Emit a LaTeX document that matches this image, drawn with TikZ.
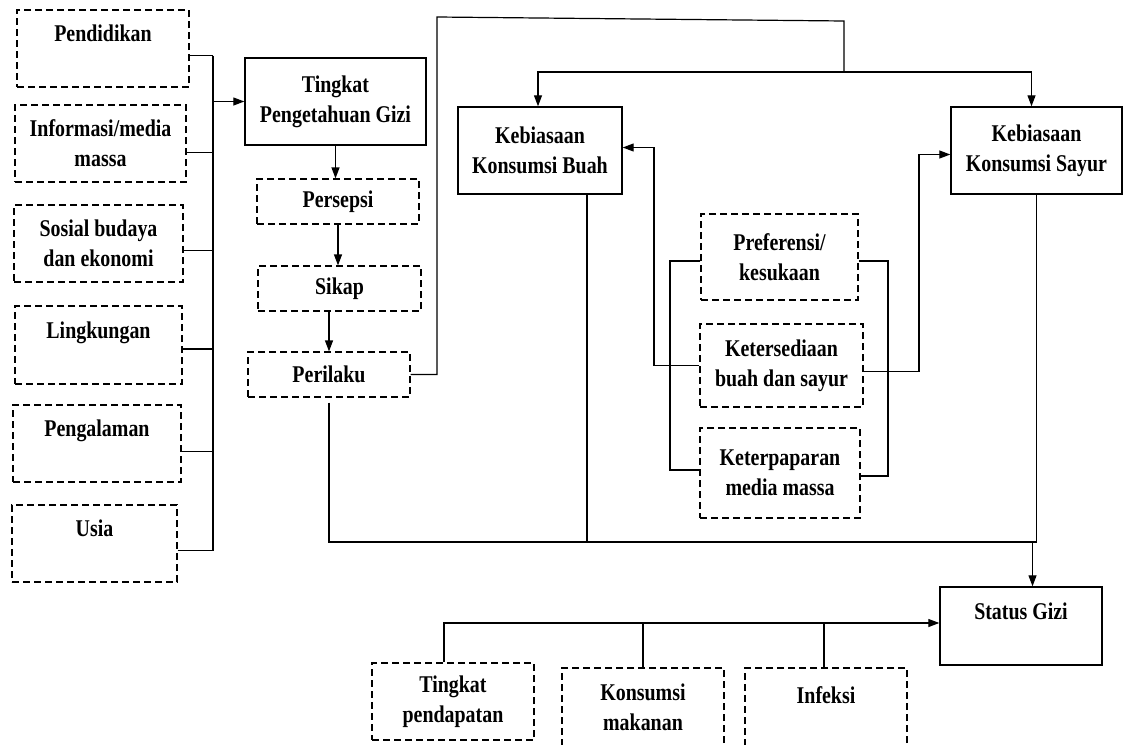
\documentclass[tikz,border=0pt]{standalone}
\usepackage{fontspec}
\setmainfont[FakeStretch=0.83]{Liberation Serif}
\usetikzlibrary{arrows.meta}

\begin{document}
\begin{tikzpicture}[x=1pt,y=-1pt,line width=1.2pt,
  font=\fontsize{24}{30}\selectfont\bfseries,
  box/.style={draw,line width=1.4pt,align=center,inner sep=0pt},
  dbox/.style={box,line width=1.2pt,dash pattern=on 7pt off 4pt},
  arr/.style={-{Triangle[length=11pt,width=8pt]}}]
\useasboundingbox (0,0) rectangle (1123,744);
% left factors
\node[dbox,minimum width=172pt,minimum height=77pt] (pend) at (103,48.5) {Pendidikan\\ \mbox{}};
\node[dbox,minimum width=171pt,minimum height=77pt] (info) at (100.5,143.5) {Informasi/media\\ massa};
\node[dbox,minimum width=169pt,minimum height=77pt] (sosial) at (98.5,243.5) {Sosial budaya\\ dan ekonomi};
\node[dbox,minimum width=167pt,minimum height=78pt] (ling) at (98.5,345) {Lingkungan\\ \mbox{}};
\node[dbox,minimum width=168pt,minimum height=77pt] (peng) at (97,443.5) {Pengalaman\\ \mbox{}};
\node[dbox,minimum width=165pt,minimum height=77pt] (usia) at (94.5,543.5) {Usia\\ \mbox{}};
% knowledge chain
\node[box,minimum width=181pt,minimum height=87pt] (tpg) at (335.5,101.5) {Tingkat\\ Pengetahuan Gizi};
\node[dbox,minimum width=162pt,minimum height=45pt] (persepsi) at (338,201.5) {Persepsi};
\node[dbox,minimum width=163pt,minimum height=45pt] (sikap) at (339.5,288.5) {Sikap};
\node[dbox,minimum width=162pt,minimum height=45pt] (perilaku) at (329,374.5) {Perilaku};
% habits
\node[box,minimum width=164pt,minimum height=87pt] (kkb) at (540,150.5) {Kebiasaan\\ Konsumsi Buah};
\node[box,minimum width=171pt,minimum height=87pt] (kks) at (1036.5,150.5) {Kebiasaan\\ Konsumsi Sayur};
\node[dbox,minimum width=157pt,minimum height=86pt] (pref) at (779.5,257) {Preferensi/\\ kesukaan};
\node[dbox,minimum width=163pt,minimum height=83pt] (sedia) at (781.5,365.5) {Ketersediaan\\ buah dan sayur};
\node[dbox,minimum width=160pt,minimum height=90pt] (papar) at (780,473) {Keterpaparan\\ media massa};
% outcome
\node[box,minimum width=162pt,minimum height=78pt] (status) at (1021,626) {Status Gizi\\ \mbox{}};
\node[dbox,minimum width=162pt,minimum height=77pt] (dapat) at (453,701.5) {Tingkat\\ pendapatan};
\node[dbox,minimum width=162pt,minimum height=78pt] (makan) at (643,707) {Konsumsi\\ makanan};
\node[dbox,minimum width=162pt,minimum height=78pt] (infeksi) at (826,707) {Infeksi\\[-6pt] \mbox{}};

\coordinate (lbar) at (213,0);
\coordinate (pturn) at (437,17);
\coordinate (topr) at (844,21);
\coordinate (split) at (844,72);
\coordinate (lk) at (654,0);
\coordinate (lbr) at (670,0);
\coordinate (rbr) at (888,0);
\coordinate (rk) at (919,0);
\coordinate (bot) at (0,542);
\coordinate (pendr) at ([yshift=-7pt]pend.east);
\coordinate (infor) at ([yshift=-9pt]info.east);
\coordinate (sosialr) at ([yshift=-7pt]sosial.east);
\coordinate (lingr) at ([yshift=-4pt]ling.east);
\coordinate (pengr) at ([yshift=-8pt]peng.east);
\coordinate (usiar) at ([yshift=-7pt]usia.east);

\foreach \n in {pendr,infor,sosialr,lingr,pengr,usiar}
  \draw (\n) -- (\n -| lbar);
\draw (pendr -| lbar) -- (usiar -| lbar);
\draw[arr] (lbar |- tpg.west) -- (tpg.west);
\draw[arr] (tpg.south) -- (tpg.south |- persepsi.north);
\draw[arr] (persepsi.south) -- (persepsi.south |- sikap.north);
\draw[arr] (perilaku.north |- sikap.south) -- (perilaku.north);

\draw (perilaku.east) -| (pturn) -- (topr) -- (split);
\draw[arr] (split) -| ([xshift=-2pt]kkb.north);
\draw[arr] (split) -| ([xshift=-5pt]kks.north);

\draw ([yshift=-4pt]pref.west) -- ([yshift=-4pt]pref.west -| lbr) -- ([yshift=3pt]papar.west -| lbr) -- ([yshift=3pt]papar.west);
\draw ([yshift=-4pt]pref.east) -- ([yshift=-4pt]pref.east -| rbr) -- ([yshift=-3pt]papar.east -| rbr) -- ([yshift=-3pt]papar.east);
\draw[arr] (sedia.west) -- (sedia.west -| lk) |- ([yshift=3pt]kkb.east);
\draw[arr] ([yshift=-6pt]sedia.east) -- ([yshift=-6pt]sedia.east -| rk) |- ([yshift=-4pt]kks.west);

\draw ([yshift=-5pt]perilaku.south) -- (perilaku.south |- bot) -- (kks.south |- bot);
\draw ([xshift=47pt]kkb.south) -- ([xshift=47pt]kkb.south |- bot);
\draw (kks.south) -- (kks.south |- bot);
\draw[arr] ([xshift=-4pt]kks.south |- bot) -- ([xshift=-4pt]kks.south |- status.north);

\draw[arr] ([xshift=-9pt]dapat.north) |- ([yshift=3pt]status.west);
\draw (makan.north) -- ++(0,-44);
\draw ([xshift=-2pt]infeksi.north) -- ++(0,-44);
\end{tikzpicture}
\end{document}
